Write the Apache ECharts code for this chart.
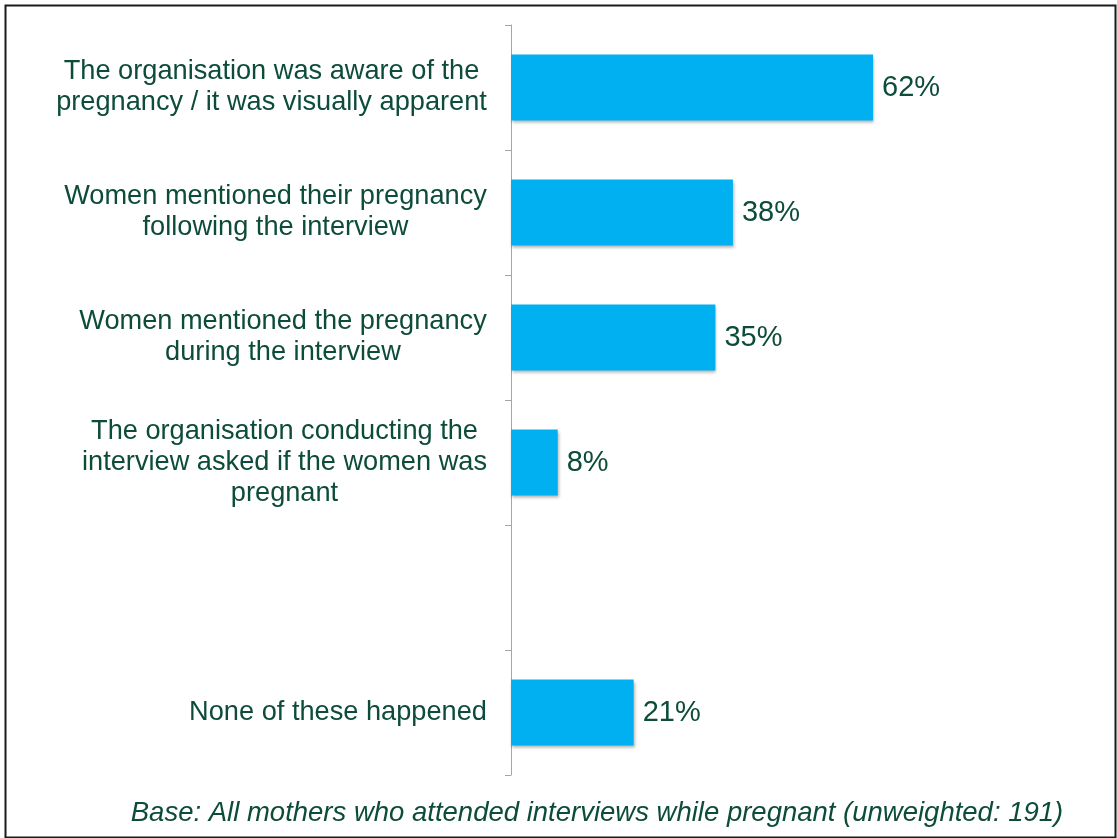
<!DOCTYPE html>
<html>
<head>
<meta charset="utf-8">
<script src="https://cdn.jsdelivr.net/npm/echarts@6/dist/echarts.min.js"></script>
<style>
html,body{margin:0;padding:0;background:#fff;}
#chart{width:1117px;height:838px;}
</style>
</head>
<body>
<div id="chart"></div>
<script>
const categories = [
  "The organisation was aware of the\npregnancy / it was visually apparent",
  "Women mentioned their pregnancy\nfollowing the interview",
  "Women mentioned the pregnancy\nduring the interview",
  "The organisation conducting the\ninterview asked if the women was\npregnant",
  "",
  "None of these happened"
];
const values = [62, 38, 35, 8, null, 21];
const footnote = "Base: All mothers who attended interviews while pregnant (unweighted: 191)";

const textColor = "#0d4c3a";
const fam = "'Liberation Sans', Arial, sans-serif";
const labelSize = 27.2;

// measure for centered multi-line labels
const cvs = document.createElement('canvas').getContext('2d');
cvs.font = labelSize + "px " + fam;
const rich = {};
const formatted = {};
categories.forEach((c, i) => {
  if (!c) return;
  const lines = c.split('\n');
  const w = Math.ceil(Math.max(...lines.map(l => cvs.measureText(l).width)));
  rich['c' + i] = { width: w, align: 'center', fontSize: labelSize, lineHeight: 31, color: textColor, fontFamily: fam };
  formatted[c] = lines.map(l => '{c' + i + '|' + l + '}').join('\n');
});

const chart = echarts.init(document.getElementById('chart'));
chart.setOption({
  animation: false,
  backgroundColor: '#fff',
  grid: { left: 511, top: 25, width: 584, height: 750, containLabel: false },
  xAxis: { type: 'value', min: 0, max: 100, show: false },
  yAxis: {
    type: 'category',
    inverse: true,
    data: categories,
    axisLine: { show: true, lineStyle: { color: '#a6a6a6', width: 1 } },
    axisTick: { show: true, length: 6, lineStyle: { color: '#a6a6a6' } },
    axisLabel: {
      margin: 24,
      align: 'right',
      formatter: v => formatted[v] || '',
      rich: rich
    },
    splitLine: { show: false }
  },
  series: [{
    type: 'bar',
    data: values.map(v => v == null ? '-' : v),
    barWidth: 66,
    itemStyle: {
      color: '#00b0f0',
      shadowColor: 'rgba(0,0,0,0.3)',
      shadowBlur: 3,
      shadowOffsetX: 1,
      shadowOffsetY: 2
    },
    label: {
      show: true,
      position: 'right',
      distance: 9,
      formatter: p => p.value + '%',
      fontSize: 29,
      color: textColor,
      fontFamily: fam
    }
  }],
  title: {
    text: footnote,
    left: 592,
    textAlign: 'center',
    top: 795,
    textStyle: {
      fontSize: 27.5,
      fontStyle: 'italic',
      fontWeight: 'normal',
      color: textColor,
      fontFamily: fam
    }
  },
  graphic: [{
    type: 'rect',
    left: 3, top: 3,
    shape: { width: 1110, height: 832 },
    style: { fill: 'none', stroke: '#1a1a1a', lineWidth: 2 },
    silent: true
  }]
});
</script>
</body>
</html>
